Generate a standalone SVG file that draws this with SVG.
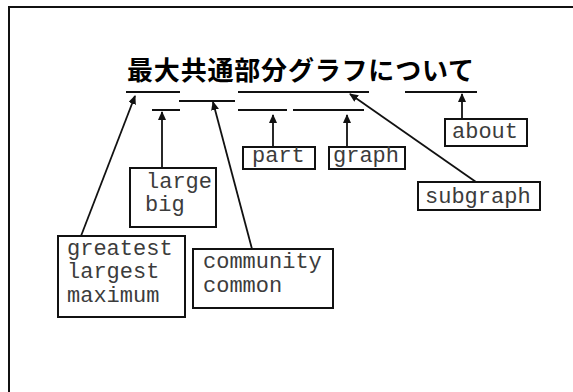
<svg xmlns="http://www.w3.org/2000/svg" width="573" height="392" viewBox="0 0 573 392">
<style>
.frame{fill:none;stroke:#111;stroke-width:2}
.box{fill:#fff;stroke:#111;stroke-width:2}
.ul{stroke:#111;stroke-width:2;fill:none}
.arr{stroke:#111;stroke-width:1.8;fill:none;marker-end:url(#ah)}
.t{font-family:"Liberation Mono","Courier New",monospace;font-size:22px;fill:#3c3c3c}
.title{font-family:"Noto Sans CJK JP","Noto Sans CJK SC",sans-serif;font-size:26px;font-weight:bold;fill:#000}
</style>
<defs>
<marker id="ah" markerWidth="10" markerHeight="8" refX="8" refY="4" orient="auto" markerUnits="userSpaceOnUse">
<path d="M0,0 L9,4 L0,8 Z" fill="#111"/>
</marker>
</defs>
<rect width="573" height="392" fill="#fff"/>
<rect class="frame" x="9" y="7" width="580" height="400"/>
<g id="title">
<text class="title" x="127" y="80" textLength="347" lengthAdjust="spacing">最大共通部分グラフについて</text>
</g>
<g id="underlines">
<line class="ul" x1="126" y1="92" x2="180" y2="92"/>
<line class="ul" x1="152" y1="110" x2="180" y2="110"/>
<line class="ul" x1="179" y1="101" x2="235" y2="101"/>
<line class="ul" x1="238" y1="92" x2="369" y2="92"/>
<line class="ul" x1="238" y1="110" x2="287" y2="110"/>
<line class="ul" x1="293" y1="110" x2="364" y2="110"/>
<line class="ul" x1="405" y1="92" x2="477" y2="92"/>
</g>
<g id="connectors">
<line class="arr" x1="81" y1="236" x2="135" y2="96"/>
<line class="arr" x1="162" y1="168" x2="162" y2="112"/>
<line class="arr" x1="252" y1="249" x2="213" y2="102"/>
<line class="arr" x1="273" y1="147" x2="273" y2="115"/>
<line class="arr" x1="347" y1="147" x2="347" y2="115"/>
<line class="arr" x1="476" y1="182" x2="350" y2="94"/>
<line class="arr" x1="462" y1="119" x2="462" y2="94"/>
</g>
<g id="node-large">
<rect class="box" x="130" y="168" width="86" height="59"/>
<text class="t" x="146" y="188">large</text>
<text class="t" x="145" y="211">big</text>
</g>
<g id="node-greatest">
<rect class="box" x="58" y="236" width="127" height="81"/>
<text class="t" x="67" y="255">greatest</text>
<text class="t" x="67" y="278">largest</text>
<text class="t" x="67" y="302">maximum</text>
</g>
<g id="node-community">
<rect class="box" x="193" y="249" width="140" height="59"/>
<text class="t" x="203" y="268">community</text>
<text class="t" x="203" y="292">common</text>
</g>
<g id="node-part">
<rect class="box" x="243" y="147" width="72" height="22"/>
<text class="t" x="252" y="162">part</text>
</g>
<g id="node-graph">
<rect class="box" x="329" y="147" width="76" height="22"/>
<text class="t" x="333" y="162">graph</text>
</g>
<g id="node-about">
<rect class="box" x="445" y="119" width="82" height="27"/>
<text class="t" x="452" y="138">about</text>
</g>
<g id="node-subgraph">
<rect class="box" x="418" y="182" width="122" height="28"/>
<text class="t" x="425" y="203">subgraph</text>
</g>
</svg>
